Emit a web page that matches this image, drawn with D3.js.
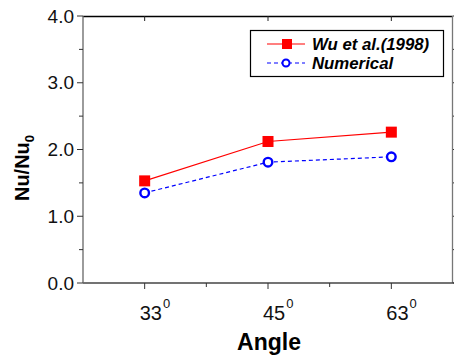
<!DOCTYPE html>
<html><head><meta charset="utf-8">
<script src="https://cdn.jsdelivr.net/npm/d3@7/dist/d3.min.js"></script>
<style>body{margin:0;background:#fff}svg{display:block;font-family:"Liberation Sans",Arial,sans-serif}</style>
</head><body><svg id="c" width="454" height="356"></svg>
<script>
const categories = ["33", "45", "63"];
const wuValues = [1.53, 2.12, 2.26];
const numValues = [1.35, 1.81, 1.89];
const yTicks = [0, 1, 2, 3, 4];
const yTickLabels = ["0.0", "1.0", "2.0", "3.0", "4.0"];
const seriesNames = ["Wu et al.(1998)", "Numerical"];

const svg = d3.select("#c");
const L = 83, R = 453, T = 16, B = 283;
const x = d3.scaleLinear().domain([0.5, categories.length + 0.5]).range([L, R]);
const y = d3.scaleLinear().domain([0, 4]).range([B, T]);
const idx = categories.map((d, i) => i + 1);
const minorX = [1.5, 2.5];
const minorY = [0.5, 1.5, 2.5, 3.5];

// frame lines
svg.append("line").attr("x1", L).attr("x2", R).attr("y1", T + 0.5).attr("y2", T + 0.5).attr("stroke", "#000").attr("stroke-width", 1.3);
svg.append("line").attr("x1", R - 0.5).attr("x2", R - 0.5).attr("y1", T).attr("y2", B).attr("stroke", "#777").attr("stroke-width", 1.3);

// bottom axis
const gx = svg.append("g").attr("transform", `translate(0,${B})`);
gx.append("line").attr("x1", L).attr("x2", R + 1).attr("stroke", "#444").attr("stroke-width", 1.5);
gx.selectAll(".mj").data(idx).join("line").attr("class","mj").attr("x1", d => x(d)).attr("x2", d => x(d)).attr("y1", 0).attr("y2", 6).attr("stroke", "#333");
gx.selectAll(".mn").data(minorX).join("line").attr("class","mn").attr("x1", d => x(d)).attr("x2", d => x(d)).attr("y1", 0).attr("y2", 4).attr("stroke", "#333");
const xl = gx.selectAll(".tl").data(categories).join("text").attr("class","tl")
  .attr("x", (d, i) => x(i + 1) - 5).attr("y", 37).attr("text-anchor", "start")
  .attr("font-size", 20).attr("fill", "#111");
xl.append("tspan").text(d => d);
xl.append("tspan").text("0").attr("font-size", 13).attr("dy", -12).attr("dx", 1);

// top axis ticks (inward)
svg.selectAll(".tt").data(idx).join("line").attr("class","tt").attr("x1", d => x(d)).attr("x2", d => x(d)).attr("y1", T).attr("y2", T + 5).attr("stroke", "#222");

// left axis
const gy = svg.append("g").attr("transform", `translate(${L},0)`);
gy.append("line").attr("y1", T).attr("y2", B).attr("stroke", "#666").attr("stroke-width", 1.3);
gy.selectAll(".mj").data(yTicks).join("line").attr("class","mj").attr("y1", d => y(d)).attr("y2", d => y(d)).attr("x1", -6).attr("x2", 0).attr("stroke", "#333");
gy.selectAll(".mn").data(minorY).join("line").attr("class","mn").attr("y1", d => y(d)).attr("y2", d => y(d)).attr("x1", -4).attr("x2", 0).attr("stroke", "#333");
gy.selectAll(".tl").data(yTicks).join("text").attr("class","tl").attr("x", -9).attr("y", d => y(d) + 6.5)
  .attr("text-anchor", "end").attr("font-size", 19).attr("fill", "#111").text((d, i) => yTickLabels[i]);

// right axis ticks (outward)
svg.selectAll(".rt").data(yTicks.concat(minorY)).join("line").attr("class","rt").attr("y1", d => y(d)).attr("y2", d => y(d)).attr("x1", R).attr("x2", R + 5).attr("stroke", "#333");

// axis titles
svg.append("text").attr("x", 269).attr("y", 350).attr("text-anchor", "middle").attr("font-size", 23).attr("font-weight", "bold").text("Angle");
const yt = svg.append("text").attr("transform", "translate(29,168) rotate(-90)").attr("text-anchor", "middle").attr("font-size", 20).attr("font-weight", "bold");
yt.append("tspan").text("Nu/Nu");
yt.append("tspan").text("0").attr("font-size", 13).attr("dy", 5);

// series
const line = d3.line().x((d, i) => x(i + 1)).y(d => y(d));
svg.append("path").attr("d", line(wuValues)).attr("fill", "none").attr("stroke", "#ff0000").attr("stroke-width", 1.2);
svg.append("path").attr("d", line(numValues)).attr("fill", "none").attr("stroke", "#0000ff").attr("stroke-width", 1.2).attr("stroke-dasharray", "4,3");
svg.selectAll(".sq").data(wuValues).join("rect").attr("class","sq").attr("x", (d, i) => x(i + 1) - 5.5).attr("y", d => y(d) - 5.5).attr("width", 11).attr("height", 11).attr("fill", "#ff0000");
svg.selectAll(".ci").data(numValues).join("circle").attr("class","ci").attr("cx", (d, i) => x(i + 1)).attr("cy", d => y(d)).attr("r", 4.3).attr("fill", "#fff").attr("stroke", "#0000ff").attr("stroke-width", 2.4);

// legend
const lg = svg.append("g");
lg.append("rect").attr("x", 250.5).attr("y", 30.5).attr("width", 193).attr("height", 46).attr("fill", "#fff").attr("stroke", "#000").attr("stroke-width", 1.2);
lg.append("line").attr("x1", 267).attr("x2", 305).attr("y1", 44).attr("y2", 44).attr("stroke", "#ff0000").attr("stroke-width", 1.2);
lg.append("rect").attr("x", 282).attr("y", 39).attr("width", 10).attr("height", 10).attr("fill", "#ff0000");
lg.append("line").attr("x1", 267).attr("x2", 305).attr("y1", 63).attr("y2", 63).attr("stroke", "#0000ff").attr("stroke-width", 1.2).attr("stroke-dasharray", "4,3");
lg.append("circle").attr("cx", 286).attr("cy", 63).attr("r", 3.5).attr("fill", "#fff").attr("stroke", "#0000ff").attr("stroke-width", 2);
lg.selectAll(".lt").data(seriesNames).join("text").attr("class","lt").attr("x", 312).attr("y", (d, i) => 50 + i * 19)
  .attr("font-size", 16.8).attr("font-weight", "bold").attr("font-style", "italic").text(d => d);
</script></body></html>
